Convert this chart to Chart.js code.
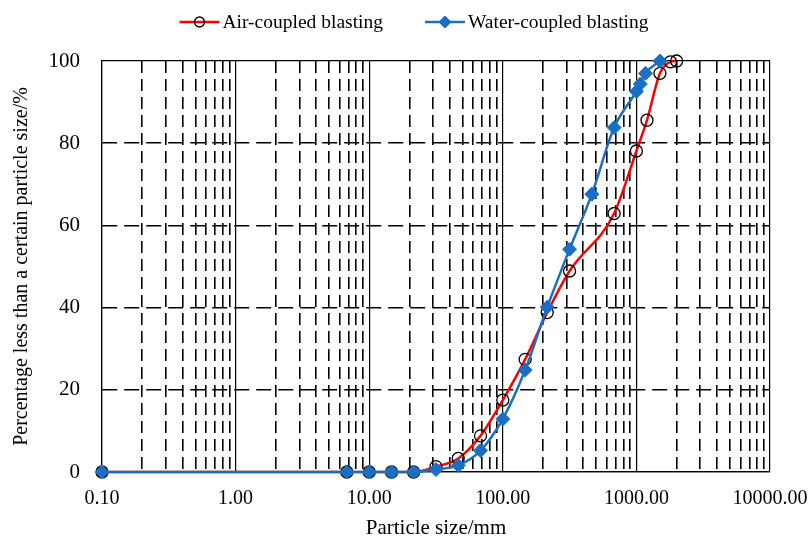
<!DOCTYPE html>
<html>
<head>
<meta charset="utf-8">
<script src="https://cdn.jsdelivr.net/npm/chart.js@4.4.0/dist/chart.umd.min.js"></script>
<style>
  html, body { margin: 0; padding: 0; background: #fff; }
</style>
</head>
<body>
<canvas id="graficoGranulometria" width="810" height="541"></canvas>
<script>
// particle size (mm) and cumulative passing (%)
const airSizes = [0.1, 6.8, 10, 14.7, 21.5, 31.6, 46.4, 68.1, 100, 147, 215, 316, 681, 1000, 1200, 1500, 1800, 2000];
const airPassing = [0, 0, 0, 0, 0, 1.3, 3.3, 8.8, 17.5, 27.4, 38.8, 48.9, 62.9, 78.1, 85.6, 97.0, 99.8, 100];
const waterSizes = [0.1, 6.8, 10, 14.7, 21.5, 31.6, 46.4, 68.1, 100, 147, 215, 316, 464, 681, 1000, 1070, 1170, 1500];
const waterPassing = [0, 0, 0, 0, 0, 0.6, 1.6, 5.2, 12.9, 24.8, 40.1, 54.2, 67.6, 83.8, 92.6, 94.4, 97.0, 100];

const xDecades = [0.1, 1, 10, 100, 1000, 10000];
const yTicks = [0, 20, 40, 60, 80, 100];

const fonte = 'Liberation Serif, Times New Roman, serif';
const vermelho = '#ff0000';
const azul = '#1a6fc4';

// decade lines plus 2..9 inside each decade
const xTicks = [];
xDecades.forEach((d, i) => {
    xTicks.push(d);
    if (i < xDecades.length - 1) {
        for (let k = 2; k <= 9; k++) xTicks.push(d * k);
    }
});

function pontos(sizes, vals) {
    return sizes.map((s, i) => ({ x: s, y: vals[i] }));
}

function ehDecada(v) {
    return xDecades.includes(v);
}

// legend: short line with the marker on it, then the label
const legendaLinhas = {
    id: 'legendaLinhas',
    afterDraw(chart) {
        const ctx = chart.ctx;
        ctx.save();
        ctx.font = '19.5px ' + fonte;
        ctx.textBaseline = 'middle';
        const linha = 40, gapTexto = 3, gapItem = 42;
        const itens = chart.data.datasets;
        let total = 0;
        itens.forEach((ds, i) => {
            total += linha + gapTexto + ctx.measureText(ds.label).width;
            if (i > 0) total += gapItem;
        });
        let x = chart.width / 2 + 9 - total / 2;
        const y = 22;
        itens.forEach(ds => {
            ctx.strokeStyle = ds.borderColor;
            ctx.lineWidth = ds.borderWidth;
            ctx.beginPath();
            ctx.moveTo(x, y);
            ctx.lineTo(x + linha, y);
            ctx.stroke();
            ctx.fillStyle = ds.pointBackgroundColor;
            ctx.strokeStyle = ds.pointBorderColor;
            ctx.lineWidth = ds.pointBorderWidth;
            Chart.helpers.drawPoint(ctx, {
                pointStyle: ds.pointStyle,
                radius: ds.pointRadius - 1,
                borderWidth: ds.pointBorderWidth
            }, x + linha / 2, y);
            ctx.fillStyle = '#000';
            ctx.fillText(ds.label, x + linha + gapTexto, y + 1);
            x += linha + gapTexto + ctx.measureText(ds.label).width + gapItem;
        });
        ctx.restore();
    }
};

function grafico() {
    const ctx = document.getElementById('graficoGranulometria');

    new Chart(ctx, {
        type: 'line',
        data: {
            datasets: [{
                label: 'Air-coupled blasting',
                data: pontos(airSizes, airPassing),
                borderColor: vermelho,
                borderWidth: 2.5,
                pointStyle: 'circle',
                pointRadius: 6,
                pointBackgroundColor: 'rgba(0,0,0,0)',
                pointBorderColor: '#000',
                pointBorderWidth: 1.3,
                cubicInterpolationMode: 'monotone',
                clip: false,
                order: 1
            }, {
                label: 'Water-coupled blasting',
                data: pontos(waterSizes, waterPassing),
                borderColor: azul,
                borderWidth: 2.5,
                pointStyle: 'rectRot',
                pointRadius: 7,
                pointBackgroundColor: azul,
                pointBorderColor: azul,
                pointBorderWidth: 1,
                cubicInterpolationMode: 'monotone',
                clip: false,
                order: 0
            }]
        },
        options: {
            responsive: false,
            animation: false,
            events: [],
            layout: { padding: { top: 61, right: 40, left: 0, bottom: 0 } },
            plugins: {
                legend: { display: false },
                tooltip: { enabled: false }
            },
            scales: {
                x: {
                    type: 'logarithmic',
                    min: 0.1,
                    max: 10000,
                    afterBuildTicks: (scale) => { scale.ticks = xTicks.map(v => ({ value: v })); },
                    afterFit: (scale) => {
                        scale.height = 69;
                        scale.paddingRight = 0;
                        scale.paddingLeft = 0;
                    },
                    ticks: {
                        autoSkip: false,
                        maxRotation: 0,
                        padding: 15,
                        color: '#000',
                        font: { family: fonte, size: 20 },
                        callback: (v) => ehDecada(v) ? v.toFixed(2) : ''
                    },
                    grid: {
                        color: '#000',
                        drawTicks: false,
                        lineWidth: (c) => c.tick && ehDecada(c.tick.value) ? 1.2 : 1.6
                    },
                    border: {
                        color: '#000',
                        width: 1.2,
                        dash: (c) => c.tick && ehDecada(c.tick.value) ? [] : [12, 6]
                    },
                    title: {
                        display: true,
                        text: 'Particle size/mm',
                        color: '#000',
                        font: { family: fonte, size: 21 },
                        padding: { top: 0, bottom: 0 }
                    }
                },
                y: {
                    min: 0,
                    max: 100,
                    afterBuildTicks: (scale) => { scale.ticks = yTicks.map(v => ({ value: v })); },
                    afterFit: (scale) => { scale.width = 102; },
                    ticks: {
                        padding: 22,
                        color: '#000',
                        font: { family: fonte, size: 21 }
                    },
                    grid: {
                        color: '#000',
                        drawTicks: false,
                        lineWidth: (c) => c.tick && (c.tick.value === 0 || c.tick.value === 100) ? 1.2 : 1.6
                    },
                    border: {
                        color: '#000',
                        width: 1.2,
                        dash: (c) => c.tick && (c.tick.value === 0 || c.tick.value === 100) ? [] : [15, 7]
                    },
                    title: {
                        display: true,
                        text: 'Percentage less than a certain particle size/%',
                        color: '#000',
                        font: { family: fonte, size: 20 },
                        padding: { top: 10, bottom: 0 }
                    }
                }
            }
        },
        plugins: [legendaLinhas]
    });
}

grafico();
</script>
</body>
</html>
